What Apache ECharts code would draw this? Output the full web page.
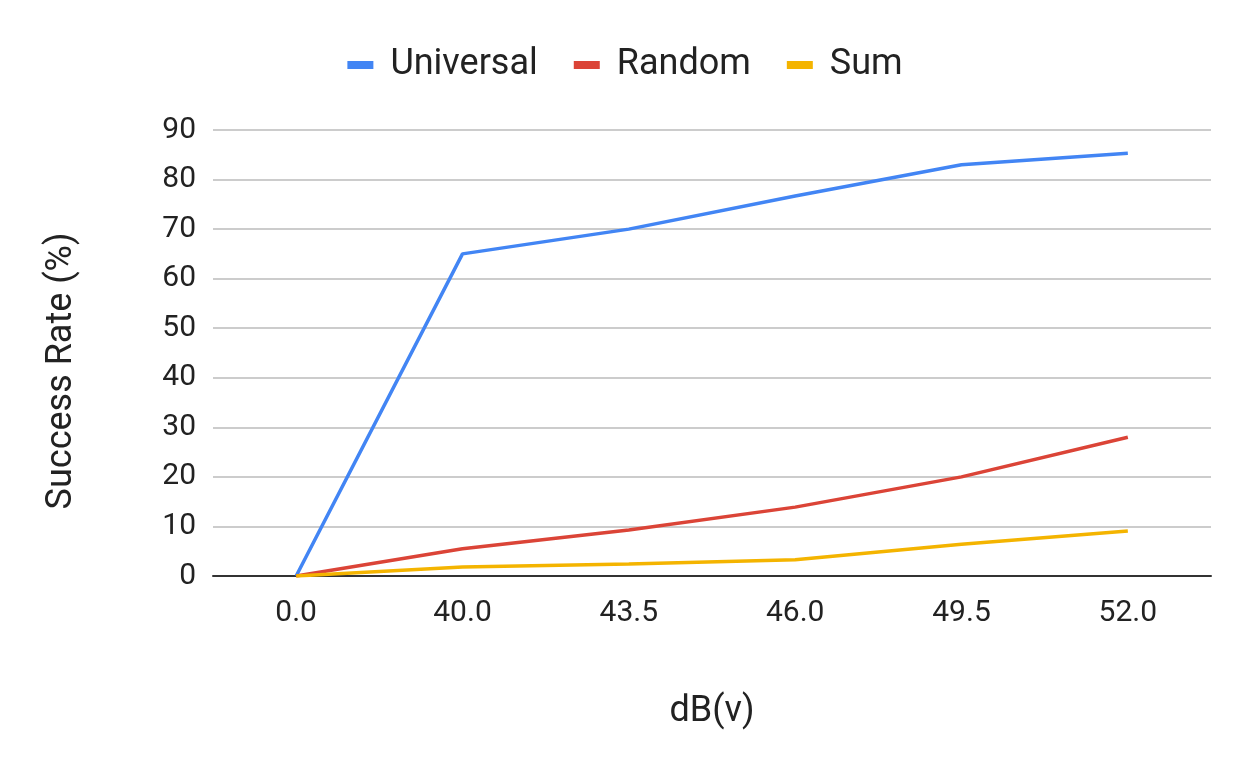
<!DOCTYPE html>
<html><head><meta charset="utf-8">
<script src="https://cdn.jsdelivr.net/npm/echarts@6/dist/echarts.min.js"></script>
<style>html,body{margin:0;padding:0;background:#fff}#c{width:1250px;height:773px}</style>
</head><body><div id="c"></div>
<script>
const categories = ['0.0', '40.0', '43.5', '46.0', '49.5', '52.0'];
const universal = [0, 65, 70, 76.7, 83, 85.3];
const random = [0, 5.5, 9.3, 13.9, 20, 28];
const sum = [0, 1.8, 2.4, 3.3, 6.4, 9.1];
const yTicks = [0, 10, 20, 30, 40, 50, 60, 70, 80, 90];

const chart = echarts.init(document.getElementById('c'));
const font = 'Roboto';
function line(name, data, color) {
  return { name, type: 'line', data, symbol: 'none', smooth: false,
    lineStyle: { width: 3.5, color }, itemStyle: { color } };
}
chart.setOption({
  animation: false,
  textStyle: { fontFamily: font },
  legend: {
    top: 42, left: 'center', itemWidth: 26, itemHeight: 8, itemGap: 36,
    icon: 'rect',
    textStyle: { fontSize: 36, color: '#222', fontFamily: font, padding: [0, 0, 0, 12] },
    data: ['Universal', 'Random', 'Sum']
  },
  grid: { left: 213, right: 39, top: 130, bottom: 197, containLabel: false },
  xAxis: {
    type: 'category', data: categories, boundaryGap: true,
    name: 'dB(v)', nameLocation: 'middle', nameGap: 118,
    nameTextStyle: { fontSize: 36, color: '#222', fontFamily: font },
    axisLine: { lineStyle: { color: '#333', width: 2 } },
    axisTick: { show: false },
    axisLabel: { fontSize: 30, color: '#222', margin: 22, fontFamily: font }
  },
  yAxis: {
    type: 'value', min: yTicks[0], max: yTicks[yTicks.length - 1], interval: 10,
    name: 'Success Rate (%)', nameLocation: 'middle', nameGap: 133,
    nameTextStyle: { fontSize: 36, color: '#222', fontFamily: font, padding: [0, 36, 0, 0] },
    axisLine: { show: false }, axisTick: { show: false },
    axisLabel: { fontSize: 30, color: '#222', margin: 17, fontFamily: font },
    splitLine: { lineStyle: { color: '#ccc', width: 2 } }
  },
  series: [
    line('Universal', universal, '#4285F4'),
    line('Random', random, '#DB4437'),
    line('Sum', sum, '#F4B400')
  ]
});
</script></body></html>
